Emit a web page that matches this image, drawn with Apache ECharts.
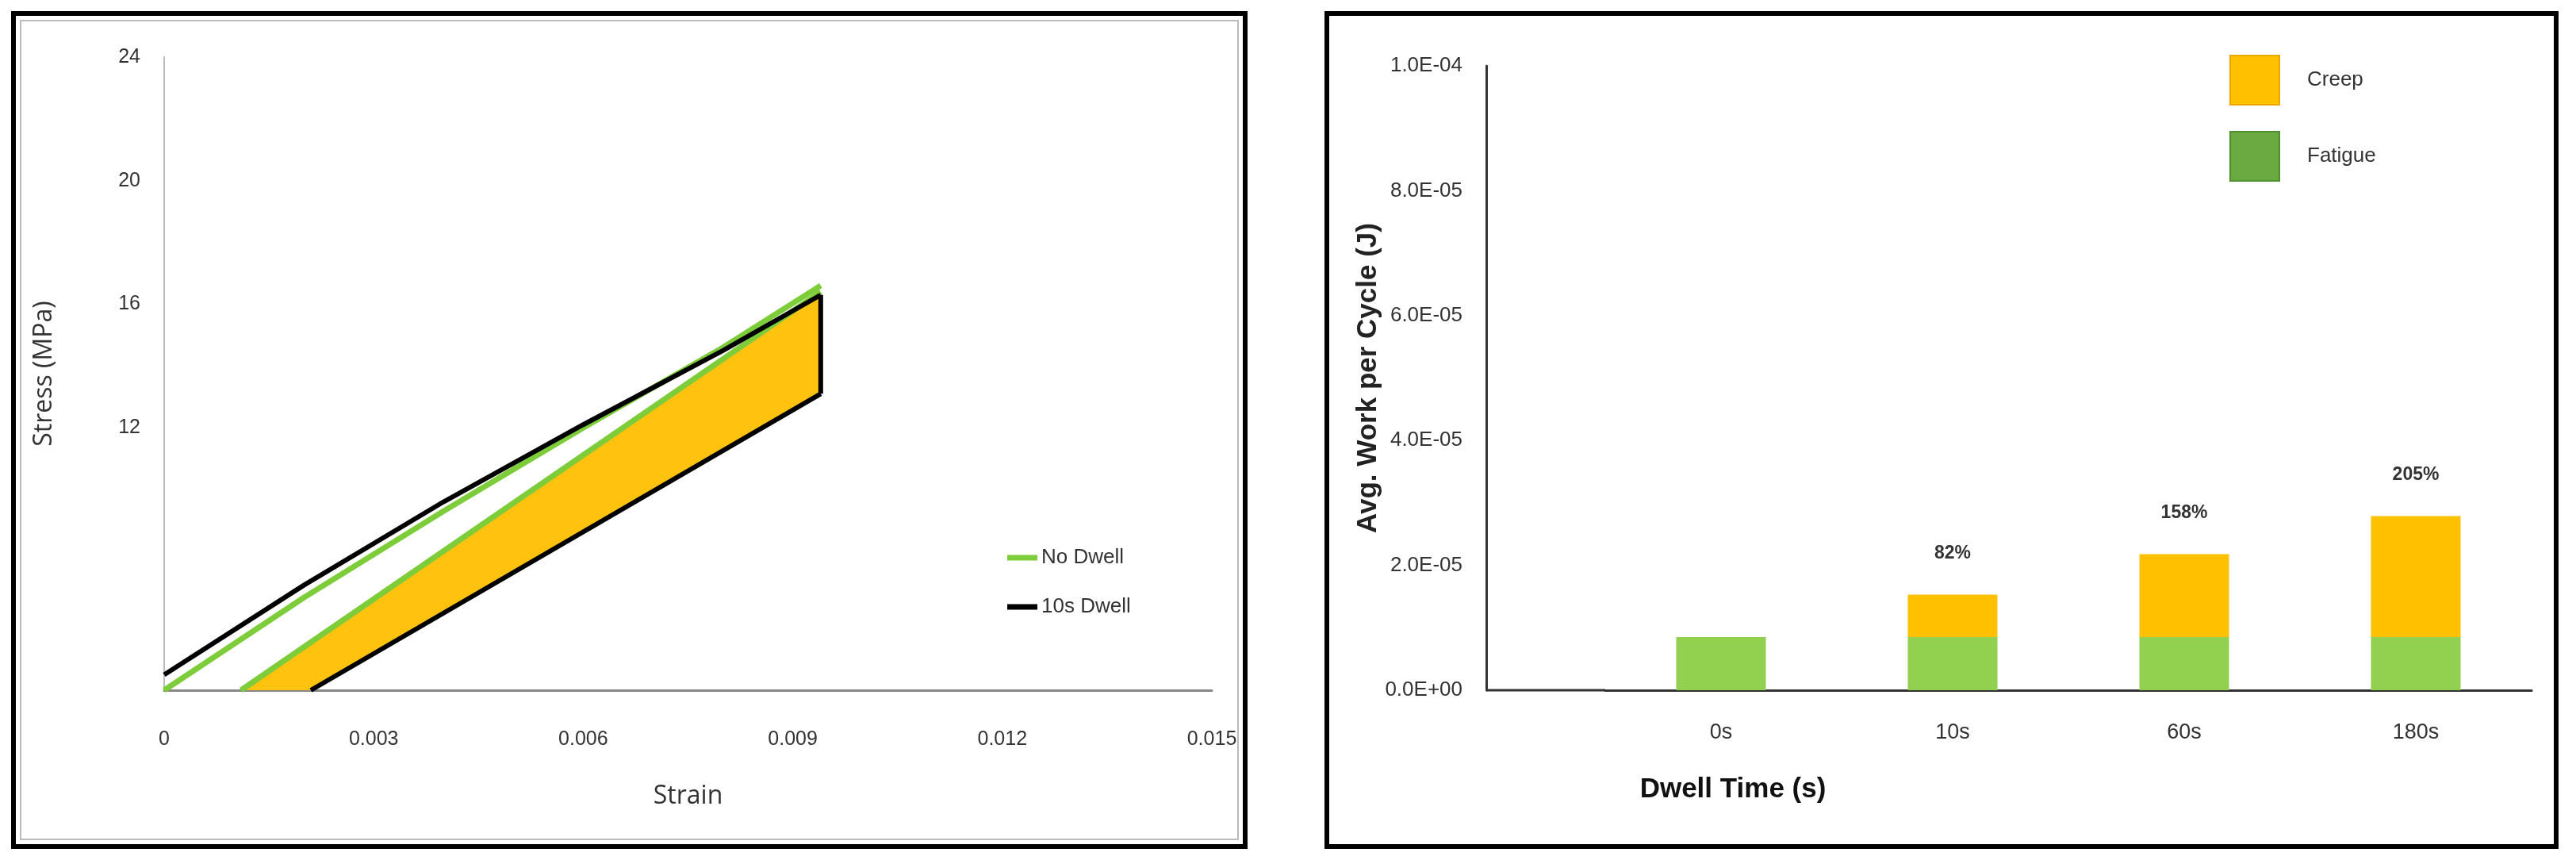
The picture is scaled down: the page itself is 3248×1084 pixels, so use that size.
<!DOCTYPE html>
<html><head><meta charset="utf-8">
<script src="https://cdn.jsdelivr.net/npm/echarts@6/dist/echarts.min.js"></script>
<style>html,body{margin:0;padding:0;background:#fff}#c{width:3248px;height:1084px}</style>
</head><body><div id="c"></div>
<script>
// Left chart data: [strain, stress MPa]
const noDwellLoad = [[0,3.5],[0.002,6.5],[0.004,9.3],[0.006,12.0],[0.008,14.6],[0.0094,16.6]];
const noDwellUnload = [[0.0094,16.4],[0.0011,3.5]];
const dwellLoad = [[0,4.0],[0.002,6.9],[0.004,9.6],[0.006,12.1],[0.008,14.5],[0.0094,16.3]];
const dwellHold = [[0.0094,16.3],[0.0094,13.1]];
const dwellUnload = [[0.0094,13.1],[0.0021,3.5]];
const creepArea = [[0.0094,16.3],[0.0011,3.5],[0.0021,3.5],[0.0094,13.1]];
const xTicks = [0,0.003,0.006,0.009,0.012,0.015];
const yTicks = [12,16,20,24];
// Right chart data
const dwellCats = ['0s','10s','60s','180s'];
const fatigue = [0.85e-5,0.85e-5,0.85e-5,0.85e-5];
const creep = [0,0.68e-5,1.33e-5,1.94e-5];
const pctLabels = ['', '82%', '158%', '205%'];

const F = "'Liberation Sans Narrow','Liberation Sans',Arial,sans-serif";
const chart = echarts.init(document.getElementById('c'));
chart.setOption({
  animation:false,
  graphic:[
    {type:'rect',shape:{x:17,y:17,width:1553,height:1050},style:{fill:'none',stroke:'#000',lineWidth:6}},
    {type:'rect',shape:{x:26,y:26,width:1535,height:1032},style:{fill:'none',stroke:'#bbb',lineWidth:2}},
    {type:'rect',shape:{x:1673,y:17,width:1550,height:1050},style:{fill:'none',stroke:'#000',lineWidth:6}},
    {type:'line',shape:{x1:1874,y1:870,x2:2024,y2:870},style:{stroke:'#333',lineWidth:3}},
    {type:'text',x:2185,y:995,style:{text:'Dwell Time (s)',font:"bold 35px 'Liberation Sans',Arial,sans-serif",fill:'#111',align:'center',verticalAlign:'middle'}}
  ],
  legend:[
    {left:1265,top:685,orient:'vertical',itemGap:36,itemWidth:38,itemHeight:7,icon:'rect',
     textStyle:{fontFamily:F,fontSize:26,color:'#333'},
     data:[{name:'No Dwell',itemStyle:{color:'#7dcc3a'}},{name:'10s Dwell',itemStyle:{color:'#000'}}]},
    {left:2806,top:64,orient:'vertical',itemGap:32,itemWidth:62,itemHeight:62,icon:'rect',
     textStyle:{fontFamily:F,fontSize:26,color:'#333',padding:[0,0,0,30]},
     data:[{name:'Creep',itemStyle:{color:'#ffc000',borderColor:'#e8a800',borderWidth:2}},{name:'Fatigue',itemStyle:{color:'#6aaa40',borderColor:'#4f8f30',borderWidth:2}}]}
  ],
  grid:[
    {left:207,right:1720,top:72,bottom:214},
    {left:2024,right:56,top:83,bottom:214}
  ],
  xAxis:[
    {gridIndex:0,type:'value',min:0,max:0.015,interval:0.003,
     axisLine:{lineStyle:{color:'#888',width:3}},axisTick:{show:false},splitLine:{show:false},
     axisLabel:{fontFamily:F,fontSize:25,color:'#333',margin:50,formatter:v=>xTicks.includes(+v.toFixed(3))?String(+v.toFixed(3)):''},
     name:'Strain',nameLocation:'middle',nameGap:118,nameTextStyle:{fontFamily:"'Open Sans',sans-serif",fontSize:32,color:'#333'}},
    {gridIndex:1,type:'category',data:dwellCats,
     axisLine:{lineStyle:{color:'#333',width:3}},axisTick:{show:false},
     axisLabel:{fontFamily:F,fontSize:27,color:'#333',margin:40}}
  ],
  yAxis:[
    {gridIndex:0,type:'value',min:3.5,max:24,interval:0.5,
     axisLine:{show:true,lineStyle:{color:'#bbb',width:2}},axisTick:{show:false},splitLine:{show:false},
     axisLabel:{fontFamily:F,fontSize:25,color:'#333',margin:30,formatter:v=>yTicks.includes(v)?String(v):''},
     name:'Stress (MPa)',nameLocation:'middle',nameGap:135,nameTextStyle:{fontFamily:"'Open Sans',sans-serif",fontSize:32,color:'#333'}},
    {gridIndex:1,type:'value',min:0,max:1e-4,interval:2e-5,offset:150,
     axisLine:{show:true,lineStyle:{color:'#333',width:3}},axisTick:{show:false},splitLine:{show:false},
     axisLabel:{fontFamily:F,fontSize:26,color:'#333',margin:30,formatter:v=>v.toExponential(1).replace('e-','E-0').replace('e+','E+0')},
     name:'Avg. Work per Cycle (J)',nameLocation:'middle',nameGap:115,nameTextStyle:{fontFamily:"'Liberation Sans',Arial,sans-serif",fontWeight:'bold',fontSize:35,color:'#222'}}
  ],
  series:[
    {type:'custom',xAxisIndex:0,yAxisIndex:0,data:[0],silent:true,z:1,
     renderItem:(p,api)=>({type:'polygon',shape:{points:creepArea.map(d=>api.coord(d))},style:{fill:'#ffc20e'}})},
    {name:'No Dwell',type:'line',xAxisIndex:0,yAxisIndex:0,data:noDwellLoad,showSymbol:false,lineStyle:{color:'#7dcc3a',width:7},z:3},
    {name:'No Dwell',type:'line',xAxisIndex:0,yAxisIndex:0,data:noDwellUnload,showSymbol:false,lineStyle:{color:'#7dcc3a',width:7},z:3},
    {name:'10s Dwell',type:'line',xAxisIndex:0,yAxisIndex:0,data:dwellLoad,showSymbol:false,lineStyle:{color:'#000',width:6},z:4},
    {name:'10s Dwell',type:'line',xAxisIndex:0,yAxisIndex:0,data:dwellHold,showSymbol:false,lineStyle:{color:'#000',width:6},z:4},
    {name:'10s Dwell',type:'line',xAxisIndex:0,yAxisIndex:0,data:dwellUnload,showSymbol:false,lineStyle:{color:'#000',width:6},z:4},
    {name:'Fatigue',type:'bar',xAxisIndex:1,yAxisIndex:1,stack:'w',data:fatigue,barWidth:113,itemStyle:{color:'#92d050'}},
    {name:'Creep',type:'bar',xAxisIndex:1,yAxisIndex:1,stack:'w',data:creep,barWidth:113,itemStyle:{color:'#ffc000'},
     label:{show:true,position:'top',distance:40,fontFamily:F,fontWeight:'bold',fontSize:23,color:'#333',formatter:p=>pctLabels[p.dataIndex]}}
  ]
});
</script></body></html>
